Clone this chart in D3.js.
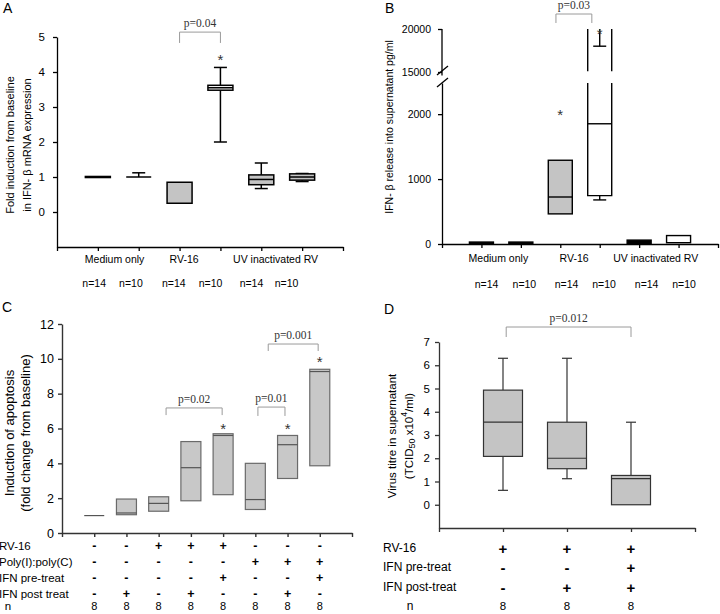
<!DOCTYPE html>
<html><head><meta charset="utf-8">
<script src="https://cdn.jsdelivr.net/npm/d3@7"></script>
<style>
body{margin:0;background:#fff;}
svg{display:block;}
</style></head><body>
<svg id="chart" width="720" height="614"></svg>
<script>
// ---------------- DATA ----------------
// Panel A : fold induction of IFN-beta mRNA
const groupsA = ["Medium only", "RV-16", "UV inactivated RV"];
const nA   = [14, 10, 14, 10, 14, 10];
const q1A  = [0.985, 1.0, 0.25, 3.48, 0.78, 0.91];
const medA = [1.0, 1.0, null, 3.55, 0.93, 1.0];
const q3A  = [1.015, 1.0, 0.85, 3.62, 1.06, 1.09];
const loA  = [null, null, null, 2.0, 0.67, 0.87];
const hiA  = [null, 1.12, null, 4.13, 1.4, 1.1];
const starA = [null, null, null, 4.4, null, null];
const ticksA = [0, 1, 2, 3, 4, 5];
const pA = {label: "p=0.04", from: 3, to: 4, top: 5.14, bottom: 4.83};

// Panel B : IFN-beta release (broken axis)
const groupsB = ["Medium only", "RV-16", "UV inactivated RV"];
const nB   = [14, 10, 14, 10, 14, 10];
const q1B  = [0, 0, 464, 745, 0, 20];
const medB = [null, null, 724, 1852, null, null];
const q3B  = [30, 30, 1290, 20000, 60, 130];
const loB  = [null, null, null, 679, null, null];
const hiB  = [null, null, null, 18000, null, null];
const starB = [null, null, 2015, 19700, null, null];
const ticksBlow = [0, 1000, 2000];
const ticksBhigh = [15000, 20000];
const pB = {label: "p=0.03", from: 2.89, to: 3.8, top: 21744, bottom: 20698};

// Panel C : induction of apoptosis
const rowsC = ["RV-16", "Poly(I):poly(C)", "IFN pre-treat", "IFN post treat"];
const signsC = [
  ["-", "-", "+", "+", "+", "-", "-", "-"],
  ["-", "-", "-", "-", "-", "+", "+", "+"],
  ["-", "-", "-", "-", "+", "-", "-", "+"],
  ["-", "+", "-", "+", "-", "-", "+", "-"]
];
const nC   = [8, 8, 8, 8, 8, 8, 8, 8];
const q1C  = [1.0, 1.05, 1.25, 1.85, 2.2, 1.35, 3.13, 3.86];
const medC = [1.0, 1.15, 1.7, 3.75, 5.6, 1.92, 5.07, 9.27];
const q3C  = [1.0, 1.95, 2.08, 5.25, 5.7, 4.0, 5.6, 9.4];
const starC = [null, null, null, null, 6.1, null, 6.1, 9.95];
const ticksC = [0, 2, 4, 6, 8, 10, 12];
const pLabelC  = ["p=0.02", "p=0.01", "p=0.001"];
const pFromC   = [3.23, 6.08, 6.4];
const pToC     = [4.97, 6.92, 7.95];
const pTopC    = [7.18, 7.23, 10.85];
const pBottomC = [6.77, 6.72, 10.45];

// Panel D : virus titre
const rowsD = ["RV-16", "IFN pre-treat", "IFN post-treat"];
const signsD = [
  ["+", "+", "+"],
  ["-", "-", "+"],
  ["-", "+", "+"]
];
const nD   = [8, 8, 8];
const loD  = [0.62, 1.12, null];
const q1D  = [2.08, 1.55, 0.0];
const medD = [3.55, 2.0, 1.12];
const q3D  = [4.93, 3.55, 1.26];
const hiD  = [6.3, 6.3, 3.55];
const ticksD = [0, 1, 2, 3, 4, 5, 6, 7];
const pD = {label: "p=0.012", from: 1.05, to: 3.0, top: 7.645, bottom: 7.215};

// ---------------- DRAWING ----------------
const SANS = "'Liberation Sans', Arial, Helvetica, sans-serif";
const SERIF = "'Liberation Serif', 'Times New Roman', serif";
const GRAY = "#c4c4c4";
const fmt = d3.format("d");
const svg = d3.select("#chart").attr("font-family", SANS);

function styleAxis(sel, size, color, sw) {
  sel.attr("font-family", SANS).attr("font-size", size);
  sel.selectAll("path,line").attr("stroke", color).attr("stroke-width", sw);
  sel.selectAll("text").attr("fill", "#000");
}
function line(g, x1, y1, x2, y2, stroke, sw) {
  return g.append("line").attr("x1", x1).attr("y1", y1).attr("x2", x2).attr("y2", y2)
    .attr("stroke", stroke).attr("stroke-width", sw);
}
function text(g, x, y, s, size, opts = {}) {
  return g.append("text").attr("x", x).attr("y", y).text(s)
    .attr("font-size", size).attr("text-anchor", opts.anchor || "middle")
    .attr("font-family", opts.family || SANS).attr("fill", opts.fill || "#000")
    .attr("font-weight", opts.weight || "normal");
}
function vlabel(g, x, y, s, size) {
  return g.append("text").attr("transform", `translate(${x},${y}) rotate(-90)`)
    .attr("text-anchor", "middle").attr("dominant-baseline", "central")
    .attr("font-size", size).attr("font-family", SANS).text(s);
}
function box(g, cx, y, q1, med, q3, lo, hi, o) {
  if (hi != null) {
    line(g, cx, y(q3), cx, y(hi), o.stroke, o.sw);
    line(g, cx - o.cap / 2, y(hi), cx + o.cap / 2, y(hi), o.stroke, o.sw);
  }
  if (lo != null) {
    line(g, cx, y(q1), cx, y(lo), o.stroke, o.sw);
    line(g, cx - o.cap / 2, y(lo), cx + o.cap / 2, y(lo), o.stroke, o.sw);
  }
  g.append("rect").attr("x", cx - o.w / 2).attr("y", y(q3)).attr("width", o.w)
    .attr("height", Math.max(0, y(q1) - y(q3))).attr("fill", o.fill)
    .attr("stroke", o.stroke).attr("stroke-width", o.sw);
  if (med != null) line(g, cx - o.w / 2, y(med), cx + o.w / 2, y(med), o.medStroke || o.stroke, o.sw);
}
function bracket(g, x1, x2, yTop, yBot, label) {
  g.append("path").attr("d", `M${x1},${yBot}V${yTop}H${x2}V${yBot}`)
    .attr("fill", "none").attr("stroke", "#9a9a9a").attr("stroke-width", 1);
  text(g, (x1 + x2) / 2, yTop - 5, label, 11.5, {family: SERIF, fill: "#333"});
}
function star(g, x, y) {
  text(g, x, y + 7, "*", 15, {fill: "#333"});
}
function signRow(g, xs, yRow, signs, size) {
  signs.forEach((sg, i) => {
    g.append("text").attr("x", xs(i + 1)).attr("y", yRow)
      .attr("dominant-baseline", "central").attr("text-anchor", "middle")
      .attr("font-size", size).attr("font-weight", "bold").text(sg);
  });
}

// ===== Panel A =====
{
  const g = svg.append("g");
  const x = d3.scaleLinear().domain([0, 7]).range([57, 343]);
  const y = d3.scaleLinear().domain([-1, 5]).range([247, 37]);
  g.append("g").attr("transform", "translate(57,0)")
    .call(d3.axisLeft(y).tickValues(ticksA).tickFormat(fmt).tickSize(4).tickSizeOuter(0).tickPadding(8))
    .call(styleAxis, 11.5, "#000", 1.3);
  g.append("g").attr("transform", "translate(0,247)")
    .call(d3.axisBottom(x).tickValues(d3.range(0, 8)).tickSize(4).tickSizeOuter(0).tickFormat(""))
    .call(styleAxis, 11, "#000", 1.3);
  const fills = ["#000", "#fff", GRAY, "#fff", GRAY, GRAY];
  nA.forEach((n, i) => {
    box(g, x(i + 1), y, q1A[i], medA[i], q3A[i], loA[i], hiA[i],
      {w: 25, cap: 13, stroke: "#000", sw: 1.5, fill: fills[i]});
    if (starA[i] != null) star(g, x(i + 1), y(starA[i]));
  });
  bracket(g, x(pA.from), x(pA.to), y(pA.top), y(pA.bottom), pA.label);
  const labPos = [1.41, 3.11, 5.35];
  groupsA.forEach((s, i) => text(g, x(labPos[i]), 263, s, 10.5));
  const nPos = [0.91, 1.81, 2.86, 3.76, 4.76, 5.62];
  nA.forEach((n, i) => text(g, x(nPos[i]), 287, "n=" + n, 10.5));
  vlabel(g, 10, 145, "Fold induction from baseline", 11);
  vlabel(g, 27, 145, "in IFN- \u03b2 mRNA expression", 11);
  text(g, 3, 13, "A", 14, {anchor: "start"});
}

// ===== Panel B =====
{
  const g = svg.append("g");
  const x = d3.scaleLinear().domain([0, 7]).range([442, 718]);
  const lowMax = 2480;
  const yLow = d3.scaleLinear().domain([0, lowMax]).range([244, 83]);
  const yHigh = d3.scaleLinear().domain([15000, 20000]).range([72, 29]);
  const y = v => (v <= lowMax ? yLow(v) : yHigh(v));
  g.append("g").attr("transform", "translate(442,0)")
    .call(d3.axisLeft(yLow).tickValues(ticksBlow).tickFormat(fmt).tickSize(4).tickSizeOuter(0).tickPadding(7))
    .call(styleAxis, 10.5, "#000", 1.3);
  const ga = g.append("g").attr("transform", "translate(442,0)")
    .call(d3.axisLeft(yHigh).tickValues(ticksBhigh).tickFormat(fmt).tickSize(4).tickSizeOuter(0).tickPadding(7))
    .call(styleAxis, 10.5, "#000", 1.3);
  ga.select(".domain").attr("d", `M0,${yHigh(20000)}V${yHigh(14600)}`);
  // axis break marks
  line(g, 437, 75, 448, 66, "#000", 1.3);
  line(g, 437, 87, 448, 78, "#000", 1.3);
  g.append("g").attr("transform", "translate(0,244)")
    .call(d3.axisBottom(x).tickValues(d3.range(0, 8)).tickSize(4).tickSizeOuter(0).tickFormat(""))
    .call(styleAxis, 10, "#000", 1.3);
  const fills = ["#000", "#000", GRAY, "#fff", "#000", "#fff"];
  const o = {w: 24, cap: 13, stroke: "#000", sw: 1.4};
  nB.forEach((n, i) => {
    const cx = x(i + 1);
    if (q3B[i] <= lowMax) {
      box(g, cx, y, q1B[i], medB[i], q3B[i], loB[i], hiB[i], Object.assign({fill: fills[i]}, o));
    } else {
      // box spanning the axis break: open-ended sides in both segments
      const l = cx - o.w / 2, r = cx + o.w / 2;
      const top = Math.min(q3B[i], 20000);
      g.append("path").attr("d", `M${l},${yLow(lowMax)}V${yLow(q1B[i])}H${r}V${yLow(lowMax)}`)
        .attr("fill", fills[i]).attr("stroke", "#000").attr("stroke-width", o.sw);
      line(g, l, yHigh(15100), l, yHigh(top), "#000", o.sw);
      line(g, r, yHigh(15100), r, yHigh(top), "#000", o.sw);
      if (medB[i] != null) line(g, l, yLow(medB[i]), r, yLow(medB[i]), "#000", o.sw);
      if (loB[i] != null) {
        line(g, cx, yLow(q1B[i]), cx, yLow(loB[i]), "#000", o.sw);
        line(g, cx - o.cap / 2, yLow(loB[i]), cx + o.cap / 2, yLow(loB[i]), "#000", o.sw);
      }
      if (hiB[i] != null) {
        line(g, cx, yHigh(top), cx, yHigh(hiB[i]), "#000", o.sw);
        line(g, cx - o.cap / 2, yHigh(hiB[i]), cx + o.cap / 2, yHigh(hiB[i]), "#000", o.sw);
      }
    }
    if (starB[i] != null) star(g, cx, y(starB[i]));
  });
  bracket(g, x(pB.from), x(pB.to), yHigh(pB.top), yHigh(pB.bottom), pB.label);
  const labPos = [1.43, 3.35, 5.42];
  groupsB.forEach((s, i) => text(g, x(labPos[i]), 262, s, 10.5));
  const nPos = [1.13, 2.09, 3.16, 4.11, 5.19, 6.14];
  nB.forEach((n, i) => text(g, x(nPos[i]), 288, "n=" + n, 10.5));
  vlabel(g, 389, 127, "IFN- \u03b2 release into supernatant pg/ml", 10.5);
  text(g, 385, 13, "B", 14, {anchor: "start"});
}

// ===== Panel C =====
{
  const g = svg.append("g");
  const x = d3.scaleLinear().domain([0, 9]).range([62, 352]);
  const y = d3.scaleLinear().domain([0, 12]).range([533, 324]);
  g.append("g").attr("transform", "translate(62,0)")
    .call(d3.axisLeft(y).tickValues(ticksC).tickFormat(fmt).tickSize(4).tickSizeOuter(0).tickPadding(4))
    .call(styleAxis, 12.5, "#333", 1.4);
  g.append("g").attr("transform", "translate(0,533)")
    .call(d3.axisBottom(x).tickValues(d3.range(0, 10)).tickSize(4).tickSizeOuter(0).tickFormat(""))
    .call(styleAxis, 11, "#333", 1.4);
  nC.forEach((n, i) => {
    const fill = q3C[i] > q1C[i] ? "#c8c8c8" : "none";
    box(g, x(i + 1), y, q1C[i], medC[i], q3C[i], null, null,
      {w: 20, cap: 10, stroke: "#6a6a6a", sw: 1.2, fill: fill, medStroke: "#555"});
    if (starC[i] != null) star(g, x(i + 1), y(starC[i]));
  });
  pLabelC.forEach((s, i) => bracket(g, x(pFromC[i]), x(pToC[i]), y(pTopC[i]), y(pBottomC[i]), s));
  const rowY = [546, 562, 578, 594];
  rowsC.forEach((s, r) => {
    g.append("text").attr("x", -1).attr("y", rowY[r]).attr("dominant-baseline", "central")
      .attr("font-size", 11.5).text(s);
    signRow(g, x, rowY[r], signsC[r], 12.5);
  });
  g.append("text").attr("x", 8).attr("y", 606).attr("dominant-baseline", "central")
    .attr("text-anchor", "middle").attr("font-size", 11.5).text("n");
  nC.forEach((n, i) => g.append("text").attr("x", x(i + 1)).attr("y", 606)
    .attr("dominant-baseline", "central").attr("text-anchor", "middle").attr("font-size", 11).text(n));
  vlabel(g, 9, 433, "Induction of apoptosis", 13);
  vlabel(g, 25, 433, "(fold change from baseline)", 13);
  text(g, 2, 312, "C", 14, {anchor: "start"});
}

// ===== Panel D =====
{
  const g = svg.append("g");
  const x = d3.scaleLinear().domain([0, 4]).range([439, 695]);
  const y = d3.scaleLinear().domain([-1, 7]).range([528, 342]);
  g.append("g").attr("transform", "translate(439,0)")
    .call(d3.axisLeft(y).tickValues(ticksD).tickFormat(fmt).tickSize(4).tickSizeOuter(0).tickPadding(5))
    .call(styleAxis, 11.5, "#333", 1.3);
  g.append("g").attr("transform", "translate(0,528)")
    .call(d3.axisBottom(x).tickValues(d3.range(0, 5)).tickSize(4).tickSizeOuter(0).tickFormat(""))
    .call(styleAxis, 11, "#333", 1.3);
  nD.forEach((n, i) => {
    box(g, x(i + 1), y, q1D[i], medD[i], q3D[i], loD[i], hiD[i],
      {w: 39, cap: 10, stroke: "#333", sw: 1.2, fill: "#c4c4c4"});
  });
  bracket(g, x(pD.from), x(pD.to), y(pD.top), y(pD.bottom), pD.label);
  const rowY = [548, 567, 587];
  rowsD.forEach((s, r) => {
    g.append("text").attr("x", 383).attr("y", rowY[r]).attr("dominant-baseline", "central")
      .attr("font-size", 12).text(s);
    signRow(g, x, rowY[r], signsD[r], 15);
  });
  g.append("text").attr("x", 410).attr("y", 606).attr("dominant-baseline", "central")
    .attr("text-anchor", "middle").attr("font-size", 12).text("n");
  nD.forEach((n, i) => g.append("text").attr("x", x(i + 1)).attr("y", 606)
    .attr("dominant-baseline", "central").attr("text-anchor", "middle").attr("font-size", 11.5).text(n));
  vlabel(g, 392, 436, "Virus titre in supernatant", 11.5);
  const t = g.append("text").attr("transform", "translate(409,436) rotate(-90)")
    .attr("text-anchor", "middle").attr("dominant-baseline", "central").attr("font-size", 11.5);
  t.append("tspan").text("(TCID");
  t.append("tspan").attr("font-size", 9).attr("dy", 3).text("50");
  t.append("tspan").attr("dy", -3).text(" x10");
  t.append("tspan").attr("font-size", 8.5).attr("dy", -5).text("4");
  t.append("tspan").attr("dy", 5).text("/ml)");
  text(g, 384, 314, "D", 14, {anchor: "start"});
}
</script>
</body></html>
